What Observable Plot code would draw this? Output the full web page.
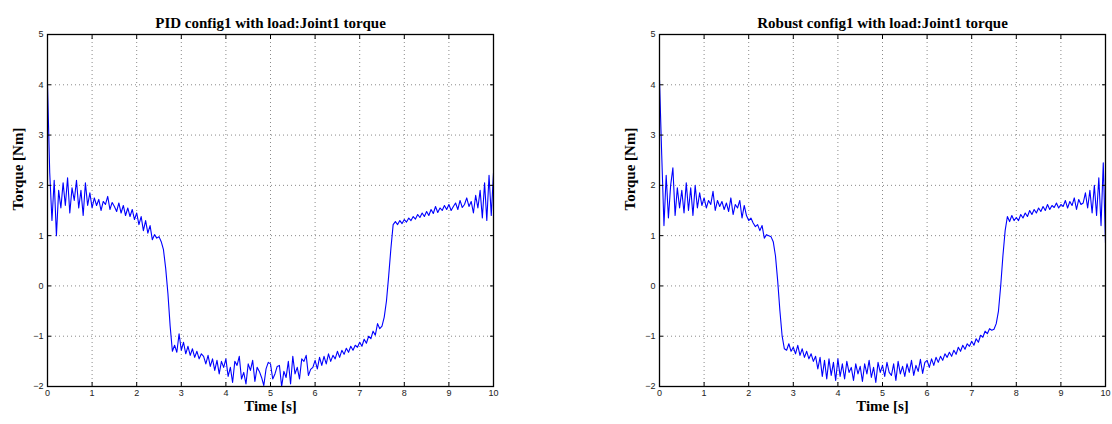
<!DOCTYPE html>
<html>
<head>
<meta charset="utf-8">
<script src="https://cdn.jsdelivr.net/npm/d3@7"></script>
<script src="https://cdn.jsdelivr.net/npm/@observablehq/plot@0.6"></script>
<style>
  html, body { margin: 0; padding: 0; background: #fff; }
  #wrap { position: relative; width: 1112px; height: 424px; }
  .panel { position: absolute; top: 0; }
</style>
</head>
<body>
<div id="wrap">
  <div class="panel" id="left" style="left:0px"></div>
  <div class="panel" id="right" style="left:612px"></div>
</div>
<script>
// Sampling step of both recordings (s)
const sampleStep = 0.05;

const titles = ["PID config1 with load:Joint1 torque", "Robust config1 with load:Joint1 torque"];
const xLabel = "Time [s]";
const yLabel = "Torque [Nm]";
const xTicks = [0, 1, 2, 3, 4, 5, 6, 7, 8, 9, 10];
const yTicks = [-2, -1, 0, 1, 2, 3, 4, 5];

// PID joint 1 torque [Nm], one value every 0.05 s from 0 to 10 s
const pidTorque = [
  4.00, 2.25, 1.30, 2.10, 1.00, 1.90, 1.55, 2.05, 1.60, 2.15,
  1.45, 1.95, 1.70, 2.10, 1.55, 1.90, 1.40, 2.05, 1.60, 1.85,
  1.55, 1.75, 1.60, 1.72, 1.50, 1.68, 1.62, 1.78, 1.52, 1.66,
  1.58, 1.48, 1.65, 1.45, 1.60, 1.40, 1.55, 1.38, 1.52, 1.32,
  1.45, 1.22, 1.38, 1.10, 1.30, 1.05, 1.20, 0.92, 1.02, 0.95,
  0.98, 0.88, 0.72, 0.35, -0.15, -0.80, -1.30, -1.18, -1.32, -0.95,
  -1.28, -1.12, -1.35, -1.20, -1.38, -1.25, -1.42, -1.30, -1.45, -1.35,
  -1.40, -1.55, -1.38, -1.60, -1.45, -1.68, -1.48, -1.75, -1.50, -1.62,
  -1.45, -1.80, -1.62, -1.92, -1.50, -1.58, -1.40, -1.85, -1.72, -1.95,
  -1.55, -1.68, -1.48, -1.90, -1.62, -1.70, -1.82, -1.98, -1.65, -1.52,
  -1.55, -1.85, -1.75, -1.60, -1.58, -2.00, -1.70, -1.82, -1.50, -1.95,
  -1.40, -1.75, -1.62, -1.85, -1.45, -1.50, -1.38, -1.78, -1.66, -1.62,
  -1.48, -1.65, -1.42, -1.58, -1.40, -1.55, -1.35, -1.50, -1.38, -1.45,
  -1.30, -1.42, -1.28, -1.36, -1.24, -1.32, -1.20, -1.28, -1.18, -1.22,
  -1.12, -1.20, -1.06, -1.14, -1.00, -1.05, -0.90, -0.98, -0.75, -0.85,
  -0.80, -0.62, -0.30, 0.20, 0.75, 1.22, 1.28, 1.22, 1.30, 1.24,
  1.32, 1.27, 1.35, 1.30, 1.38, 1.33, 1.42, 1.36, 1.45, 1.38,
  1.48, 1.40, 1.52, 1.44, 1.58, 1.46, 1.55, 1.50, 1.60, 1.52,
  1.62, 1.50, 1.58, 1.65, 1.52, 1.70, 1.56, 1.62, 1.75, 1.58,
  1.68, 1.45, 1.80, 1.55, 1.90, 1.35, 2.05, 1.30, 2.20, 1.40,
  2.25
];

// Robust joint 1 torque [Nm], one value every 0.05 s from 0 to 10 s
const robustTorque = [
  4.10, 2.60, 1.20, 2.20, 1.35, 2.00, 2.35, 1.40, 1.95, 1.55,
  1.90, 1.45, 2.05, 1.50, 1.95, 1.40, 2.00, 1.55, 1.85, 1.60,
  1.75, 1.55, 1.70, 1.62, 1.88, 1.50, 1.70, 1.58, 1.68, 1.52,
  1.65, 1.48, 1.75, 1.42, 1.62, 1.55, 1.70, 1.35, 1.60, 1.40,
  1.30, 1.35, 1.25, 1.18, 1.22, 1.10, 1.20, 0.95, 1.02, 1.00,
  0.98, 0.88, 0.60, 0.10, -0.50, -1.00, -1.25, -1.28, -1.15, -1.30,
  -1.22, -1.35, -1.18, -1.38, -1.25, -1.42, -1.30, -1.45, -1.35, -1.50,
  -1.40, -1.65, -1.42, -1.80, -1.48, -1.85, -1.45, -1.78, -1.52, -1.88,
  -1.45, -1.80, -1.55, -1.85, -1.50, -1.72, -1.62, -1.88, -1.55, -1.75,
  -1.60, -1.90, -1.55, -1.75, -1.48, -1.82, -1.62, -1.92, -1.52, -1.72,
  -1.58, -1.80, -1.52, -1.72, -1.78, -1.55, -1.88, -1.50, -1.75, -1.60,
  -1.80, -1.55, -1.72, -1.48, -1.78, -1.58, -1.70, -1.46, -1.74, -1.52,
  -1.48, -1.62, -1.45, -1.58, -1.42, -1.52, -1.40, -1.48, -1.35, -1.42,
  -1.32, -1.40, -1.28, -1.36, -1.22, -1.30, -1.18, -1.26, -1.15, -1.20,
  -1.10, -1.18, -1.05, -1.12, -0.98, -1.02, -0.90, -0.95, -0.85, -0.88,
  -0.86, -0.75, -0.50, 0.00, 0.60, 1.10, 1.38, 1.28, 1.40, 1.30,
  1.36, 1.30, 1.42, 1.35, 1.45, 1.38, 1.50, 1.42, 1.52, 1.45,
  1.55, 1.48, 1.58, 1.50, 1.62, 1.52, 1.60, 1.56, 1.65, 1.55,
  1.62, 1.58, 1.70, 1.55, 1.68, 1.60, 1.75, 1.52, 1.72, 1.62,
  1.65, 1.85, 1.55, 1.90, 1.45, 2.00, 1.40, 2.15, 1.20, 2.45,
  0.85
];

function makeChart(title, values) {
  const data = values.map((v, i) => ({t: i * sampleStep, v}));
  const fmt = d3.format("d");
  const tickOnly = () => "";
  const serif = "'Liberation Serif', 'Times New Roman', serif";
  return Plot.plot({
    width: 500,
    height: 424,
    marginLeft: 47,
    marginRight: 7,
    marginTop: 34,
    marginBottom: 38,
    style: {fontFamily: "'Liberation Sans', Arial, sans-serif", fontSize: "9px", color: "#222", background: "#fff"},
    x: {domain: [0, 10]},
    y: {domain: [-2, 5]},
    marks: [
      Plot.gridX(xTicks, {stroke: "#8a8a8a", strokeOpacity: 1, strokeDasharray: "1,3", strokeWidth: 1}),
      Plot.gridY(yTicks, {stroke: "#8a8a8a", strokeOpacity: 1, strokeDasharray: "1,3", strokeWidth: 1}),
      Plot.lineY(data, {x: "t", y: "v", stroke: "#0000ff", strokeWidth: 1.1}),
      Plot.frame({stroke: "#000", strokeWidth: 1.3}),
      Plot.axisX(xTicks, {anchor: "bottom", tickSize: 0, tickPadding: 3, tickFormat: fmt, label: null, fontSize: 9}),
      Plot.axisY(yTicks, {anchor: "left", tickSize: 0, tickPadding: 4, tickFormat: fmt, label: null, fontSize: 9}),
      Plot.axisX(xTicks, {anchor: "bottom", tickSize: -4, tickFormat: tickOnly, label: null, stroke: "#000"}),
      Plot.axisX(xTicks, {anchor: "top", tickSize: -4, tickFormat: tickOnly, label: null, stroke: "#000"}),
      Plot.axisY(yTicks, {anchor: "left", tickSize: -4, tickFormat: tickOnly, label: null, stroke: "#000"}),
      Plot.axisY(yTicks, {anchor: "right", tickSize: -4, tickFormat: tickOnly, label: null, stroke: "#000"}),
      Plot.text([title], {frameAnchor: "top", dy: -17, fontFamily: serif, fontWeight: "bold", fontSize: 15, fill: "#000"}),
      Plot.text([xLabel], {frameAnchor: "bottom", dy: 24, fontFamily: serif, fontWeight: "bold", fontSize: 15, fill: "#000"}),
      Plot.text([yLabel], {frameAnchor: "left", dx: -29, rotate: -90, fontFamily: serif, fontWeight: "bold", fontSize: 15, fill: "#000"})
    ]
  });
}

document.getElementById("left").appendChild(makeChart(titles[0], pidTorque));
document.getElementById("right").appendChild(makeChart(titles[1], robustTorque));
</script>
</body>
</html>
